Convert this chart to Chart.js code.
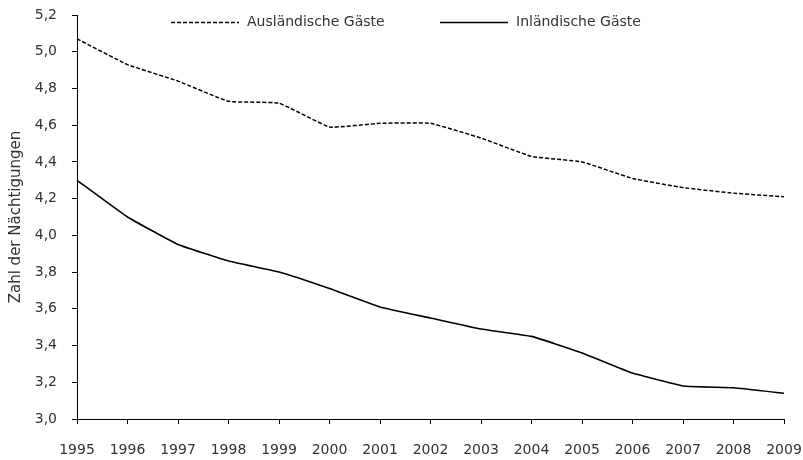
<!DOCTYPE html>
<html>
<head>
<meta charset="utf-8">
<script src="https://cdn.jsdelivr.net/npm/chart.js@4/dist/chart.umd.min.js"></script>
<style>
  html, body { margin: 0; padding: 0; background: #ffffff; }
  #wrap { width: 803px; height: 460px; }
</style>
</head>
<body>
<div id="wrap"><canvas id="c" width="803" height="460"></canvas></div>
<script>
const years = ['1995','1996','1997','1998','1999','2000','2001','2002','2003','2004','2005','2006','2007','2008','2009'];
const auslaendischeGaeste = [5.07, 4.93, 4.84, 4.73, 4.72, 4.59, 4.61, 4.61, 4.53, 4.43, 4.40, 4.31, 4.26, 4.23, 4.21];
const inlaendischeGaeste  = [4.30, 4.10, 3.95, 3.86, 3.80, 3.71, 3.61, 3.55, 3.49, 3.45, 3.36, 3.25, 3.18, 3.17, 3.14];
const yTicks = [3.0, 3.2, 3.4, 3.6, 3.8, 4.0, 4.2, 4.4, 4.6, 4.8, 5.0, 5.2];
const seriesNames = ['Ausländische Gäste', 'Inländische Gäste'];
const yTitle = 'Zahl der Nächtigungen';

const FONT = "'DejaVu Sans', sans-serif";
const TEXT = '#333333';

// Legend drawn at the top, overlapping the plot area like the reference
const topLegend = {
  id: 'topLegend',
  afterDraw(chart) {
    const ctx = chart.ctx;
    const starts = [171, 440];
    const lineLen = 68;
    const y = 22;
    ctx.save();
    chart.data.datasets.forEach((ds, i) => {
      const x0 = starts[i];
      ctx.beginPath();
      ctx.setLineDash(ds.borderDash || []);
      ctx.lineWidth = ds.borderWidth;
      ctx.strokeStyle = ds.borderColor;
      ctx.moveTo(x0, y + 0.5);
      ctx.lineTo(x0 + lineLen, y + 0.5);
      ctx.stroke();
      ctx.setLineDash([]);
      ctx.fillStyle = TEXT;
      ctx.font = "14px " + FONT;
      ctx.textBaseline = 'middle';
      ctx.textAlign = 'left';
      ctx.fillText(ds.label, x0 + lineLen + 8, y);
    });
    ctx.restore();
  }
};

new Chart(document.getElementById('c'), {
  type: 'line',
  data: {
    labels: years,
    datasets: [
      {
        label: seriesNames[0],
        data: auslaendischeGaeste,
        borderColor: '#000000',
        backgroundColor: '#000000',
        borderWidth: 1.5,
        borderDash: [4, 2],
        pointRadius: 0,
        tension: 0.1,
        fill: false
      },
      {
        label: seriesNames[1],
        data: inlaendischeGaeste,
        borderColor: '#000000',
        backgroundColor: '#000000',
        borderWidth: 1.6,
        pointRadius: 0,
        tension: 0.1,
        fill: false
      }
    ]
  },
  options: {
    responsive: false,
    devicePixelRatio: 1,
    animation: false,
    layout: { padding: { left: 0, right: 19, top: 15, bottom: 0 } },
    plugins: {
      tooltip: { enabled: false },
      legend: { display: false }
    },
    scales: {
      x: {
        type: 'category',
        offset: false,
        grid: { display: true, drawOnChartArea: false, drawTicks: true, tickLength: 5, color: '#000000' },
        border: { display: true, color: '#000000', width: 1 },
        ticks: { color: TEXT, font: { family: FONT, size: 14 }, padding: 18, maxRotation: 0, autoSkip: false },
        afterFit(scale) {
          scale.height = 41;
          scale.paddingLeft = 0;
          scale.paddingRight = 0;
        }
      },
      y: {
        min: yTicks[0],
        max: yTicks[yTicks.length - 1],
        grid: { display: true, drawOnChartArea: false, drawTicks: true, tickLength: 5, color: '#000000' },
        border: { display: true, color: '#000000', width: 1 },
        afterBuildTicks(scale) { scale.ticks = yTicks.map(v => ({ value: v })); },
        ticks: {
          color: TEXT,
          font: { family: FONT, size: 14 },
          padding: 15,
          callback: (v) => Number(v).toFixed(1).replace('.', ',')
        },
        title: {
          display: true,
          text: yTitle,
          color: TEXT,
          font: { family: FONT, size: 15 },
          padding: { top: 7, bottom: 0 }
        },
        afterFit(scale) {
          scale.width = 77;
          scale.paddingTop = 0;
          scale.paddingBottom = 0;
        }
      }
    }
  },
  plugins: [topLegend]
});
</script>
</body>
</html>
